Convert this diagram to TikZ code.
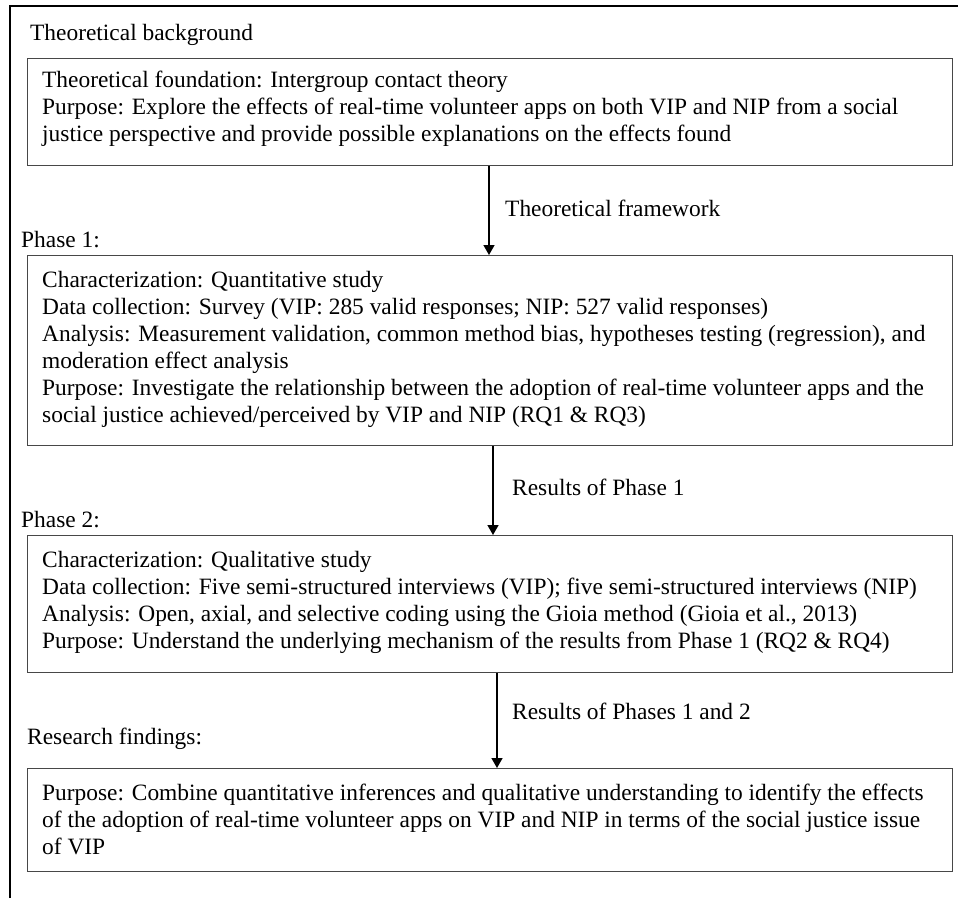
\documentclass[tikz,border=0pt]{standalone}
\usepackage{fontspec}
\setmainfont{Liberation Serif}
\usetikzlibrary{arrows.meta}
\begin{document}
\begin{tikzpicture}[x=1pt,y=-1pt,
  frame/.style={line width=2.6pt, line join=miter},
  box/.style={draw=black!72, line width=1pt, anchor=north west, inner sep=0pt},
  txt/.style={anchor=north west, align=left, inner sep=0pt, font=\fontsize{23.4}{27}\selectfont},
  lbl/.style={anchor=base west, inner sep=0pt, font=\fontsize{23.4}{27}\selectfont},
  arr/.style={-{Triangle[length=10pt,width=11pt]}, line width=1.5pt}]
\useasboundingbox (0,0) rectangle (958,898);
% outer frame (top and left only)
\coordinate (fbl) at (10,898);
\coordinate (ftl) at (10,6);
\coordinate (ftr) at (958,6);
\draw[frame] (fbl) -- (ftl) -- (ftr);

\node[lbl] (hdr) at (30,40) {Theoretical background};

% boxes
\node[box, minimum width=925pt, minimum height=107pt] (b1) at (27,58) {};
\node[box, minimum width=925pt, minimum height=190pt] (b2) at (27,255) {};
\node[box, minimum width=925pt, minimum height=137pt] (b3) at (27,535) {};
\node[box, minimum width=925pt, minimum height=103pt] (b4) at (27,768) {};

% box texts
\node[txt] (t1) at (42,68) {\strut Theoretical foundation: Intergroup contact theory\\
Purpose: Explore the effects of real-time volunteer apps on both VIP and NIP from a social\\
justice perspective and provide possible explanations on the effects found};

\node[txt] (t2) at (42,268) {\strut Characterization: Quantitative study\\
Data collection: Survey (VIP: 285 valid responses; NIP: 527 valid responses)\\
Analysis: Measurement validation, common method bias, hypotheses testing (regression), and\\
moderation effect analysis\\
Purpose: Investigate the relationship between the adoption of real-time volunteer apps and the\\
social justice achieved/perceived by VIP and NIP (RQ1 \& RQ3)};

\node[txt] (t3) at (42,548) {\strut Characterization: Qualitative study\\
Data collection: Five semi-structured interviews (VIP); five semi-structured interviews (NIP)\\
Analysis: Open, axial, and selective coding using the Gioia method (Gioia et al., 2013)\\
Purpose: Understand the underlying mechanism of the results from Phase 1 (RQ2 \& RQ4)};

\node[txt] (t4) at (42,781) {\strut Purpose: Combine quantitative inferences and qualitative understanding to identify the effects\\
of the adoption of real-time volunteer apps on VIP and NIP in terms of the social justice issue\\
of VIP};

% phase labels
\node[lbl] (p1) at (21,247) {Phase 1:};
\node[lbl] (p2) at (21,527) {Phase 2:};
\node[lbl] (p3) at (27,744) {Research findings:};

% arrows
\coordinate (a1) at (489,0);
\coordinate (a2) at (493,0);
\coordinate (a3) at (497,0);
\draw[arr] (b1.south -| a1) -- (b2.north -| a1);
\draw[arr] (b2.south -| a2) -- (b3.north -| a2);
\draw[arr] (b3.south -| a3) -- (b4.north -| a3);

\node[lbl] (l1) at (505,216) {Theoretical framework};
\node[lbl] (l2) at (512,495) {Results of Phase 1};
\node[lbl] (l3) at (512,719) {Results of Phases 1 and 2};
\end{tikzpicture}
\end{document}
